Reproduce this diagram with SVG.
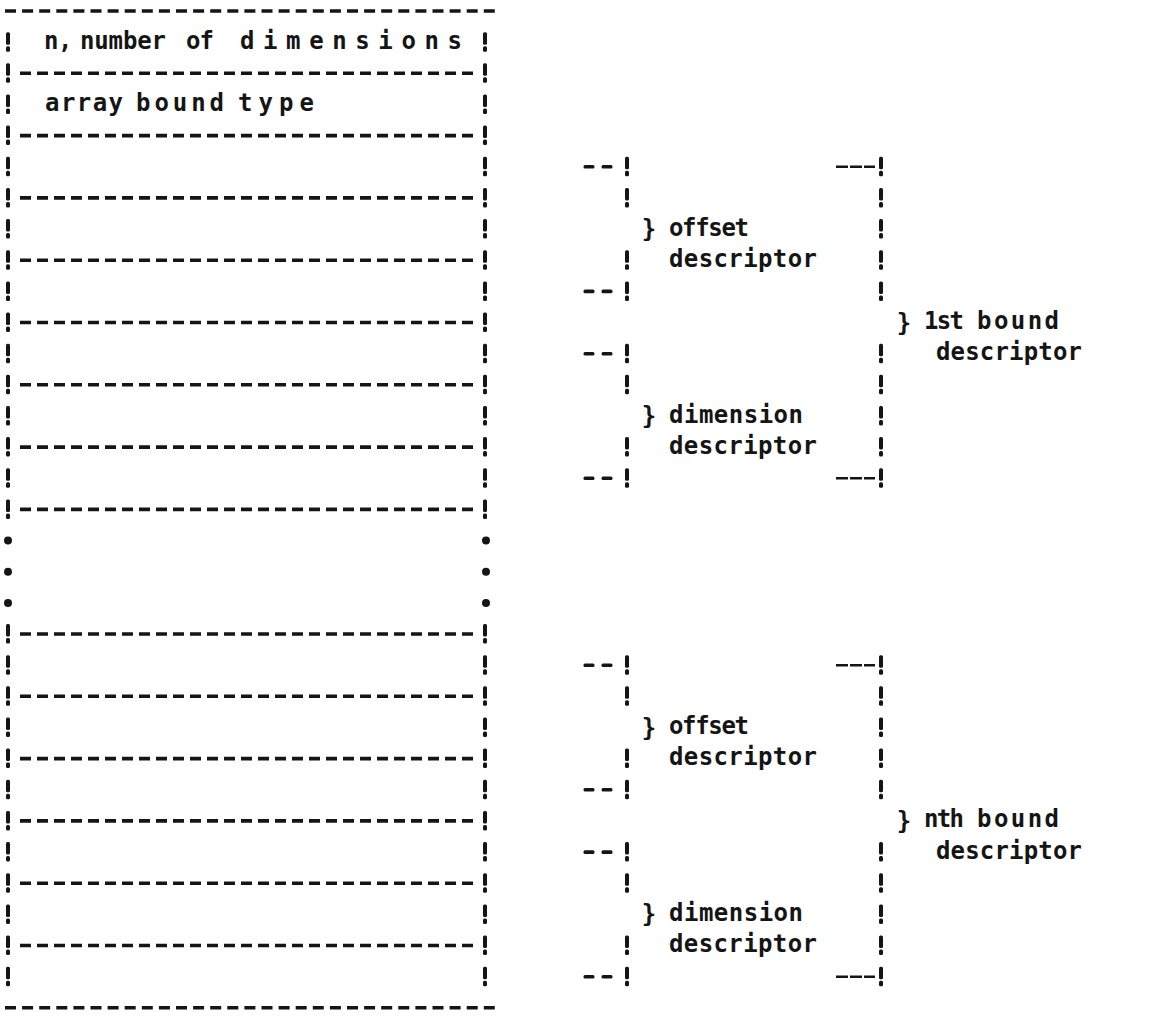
<svg xmlns="http://www.w3.org/2000/svg" xmlns:xlink="http://www.w3.org/1999/xlink" width="1162" height="1032" viewBox="0 0 1162 1032">
<style>
.t{font-family:"DejaVu Sans Mono","Liberation Mono",monospace;font-size:24px;font-weight:bold;fill:#151515}
.br{font-family:"DejaVu Sans Mono","Liberation Mono",monospace;font-size:24px;font-weight:bold;fill:#151515;text-anchor:middle}
.dl{stroke:#151515;stroke-width:3.6;stroke-dasharray:11 6;fill:none}
.dt{stroke:#151515;stroke-width:3.6;stroke-dasharray:11 6.1;fill:none}
.thin{stroke:#151515;stroke-width:2.6;stroke-dasharray:12 2;fill:none}
</style>
<defs>
<g id="bang" fill="#151515"><rect x="-2" y="-10" width="4" height="12.5" rx="1.5"/><rect x="-2" y="4" width="4" height="5.5" rx="1.5"/></g>
<rect id="dash" x="-5.5" y="-1.8" width="11" height="3.6" rx="1.5" fill="#151515"/>
<circle id="dot" r="4" fill="#151515"/>
</defs>
<rect width="1162" height="1032" fill="#ffffff"/>

<g id="array-descriptor-frame">
<line class="dt" x1="5" y1="11" x2="497" y2="11"/>
<line class="dt" x1="5" y1="1007.8" x2="497" y2="1007.8"/>
<line class="dl" x1="20" y1="73.3" x2="476" y2="73.3"/>
<line class="dl" x1="20" y1="135.6" x2="476" y2="135.6"/>
<line class="dl" x1="20" y1="197.9" x2="476" y2="197.9"/>
<line class="dl" x1="20" y1="260.2" x2="476" y2="260.2"/>
<line class="dl" x1="20" y1="322.5" x2="476" y2="322.5"/>
<line class="dl" x1="20" y1="384.8" x2="476" y2="384.8"/>
<line class="dl" x1="20" y1="447.1" x2="476" y2="447.1"/>
<line class="dl" x1="20" y1="509.4" x2="476" y2="509.4"/>
<line class="dl" x1="20" y1="634" x2="476" y2="634"/>
<line class="dl" x1="20" y1="696.3" x2="476" y2="696.3"/>
<line class="dl" x1="20" y1="758.6" x2="476" y2="758.6"/>
<line class="dl" x1="20" y1="820.9" x2="476" y2="820.9"/>
<line class="dl" x1="20" y1="883.2" x2="476" y2="883.2"/>
<line class="dl" x1="20" y1="945.5" x2="476" y2="945.5"/>
<g id="left-border">
<use href="#bang" x="8" y="42.2"/><use href="#bang" x="8" y="73.3"/><use href="#bang" x="8" y="104.5"/><use href="#bang" x="8" y="135.6"/>
<use href="#bang" x="8" y="166.8"/><use href="#bang" x="8" y="197.9"/><use href="#bang" x="8" y="229.1"/><use href="#bang" x="8" y="260.2"/>
<use href="#bang" x="8" y="291.4"/><use href="#bang" x="8" y="322.5"/><use href="#bang" x="8" y="353.7"/><use href="#bang" x="8" y="384.8"/>
<use href="#bang" x="8" y="416"/><use href="#bang" x="8" y="447.1"/><use href="#bang" x="8" y="478.3"/><use href="#bang" x="8" y="509.4"/>
<use href="#dot" x="8" y="540.6"/><use href="#dot" x="8" y="571.7"/><use href="#dot" x="8" y="602.9"/>
<use href="#bang" x="8" y="634"/><use href="#bang" x="8" y="665.2"/><use href="#bang" x="8" y="696.3"/><use href="#bang" x="8" y="727.5"/>
<use href="#bang" x="8" y="758.6"/><use href="#bang" x="8" y="789.8"/><use href="#bang" x="8" y="820.9"/><use href="#bang" x="8" y="852.1"/>
<use href="#bang" x="8" y="883.2"/><use href="#bang" x="8" y="914.4"/><use href="#bang" x="8" y="945.5"/><use href="#bang" x="8" y="976.7"/>
</g>
<g id="right-border">
<use href="#bang" x="485" y="42.2"/><use href="#bang" x="485" y="73.3"/><use href="#bang" x="485" y="104.5"/><use href="#bang" x="485" y="135.6"/>
<use href="#bang" x="485" y="166.8"/><use href="#bang" x="485" y="197.9"/><use href="#bang" x="485" y="229.1"/><use href="#bang" x="485" y="260.2"/>
<use href="#bang" x="485" y="291.4"/><use href="#bang" x="485" y="322.5"/><use href="#bang" x="485" y="353.7"/><use href="#bang" x="485" y="384.8"/>
<use href="#bang" x="485" y="416"/><use href="#bang" x="485" y="447.1"/><use href="#bang" x="485" y="478.3"/><use href="#bang" x="485" y="509.4"/>
<use href="#dot" x="486" y="540.6"/><use href="#dot" x="486" y="571.7"/><use href="#dot" x="486" y="602.9"/>
<use href="#bang" x="485" y="634"/><use href="#bang" x="485" y="665.2"/><use href="#bang" x="485" y="696.3"/><use href="#bang" x="485" y="727.5"/>
<use href="#bang" x="485" y="758.6"/><use href="#bang" x="485" y="789.8"/><use href="#bang" x="485" y="820.9"/><use href="#bang" x="485" y="852.1"/>
<use href="#bang" x="485" y="883.2"/><use href="#bang" x="485" y="914.4"/><use href="#bang" x="485" y="945.5"/><use href="#bang" x="485" y="976.7"/>
</g>
</g>

<g id="cell-number-of-dimensions">
<text class="t" x="44" y="49">n<tspan x="58">,</tspan></text>
<text class="t" x="80" y="49" textLength="86" lengthAdjust="spacing">number</text>
<text class="t" x="186" y="49" textLength="28" lengthAdjust="spacing">of</text>
<text class="t" x="240" y="49" textLength="222" lengthAdjust="spacing">dimensions</text>
</g>
<g id="cell-array-bound-type">
<text class="t" x="45" y="111" textLength="78" lengthAdjust="spacing">array</text>
<text class="t" x="136" y="111" textLength="88" lengthAdjust="spacing">bound</text>
<text class="t" x="238" y="111" textLength="76" lengthAdjust="spacing">type</text>
</g>

<g id="connectors">
<g id="offset-bracket-1"><use href="#dash" x="589" y="166.8"/><use href="#dash" x="607" y="166.8"/><use href="#bang" x="627" y="166.8"/><use href="#bang" x="627" y="197.9"/><use href="#bang" x="627" y="260.2"/><use href="#dash" x="589" y="291.4"/><use href="#dash" x="607" y="291.4"/><use href="#bang" x="627" y="291.4"/></g>
<g id="dimension-bracket-1"><use href="#dash" x="589" y="353.7"/><use href="#dash" x="607" y="353.7"/><use href="#bang" x="627" y="353.7"/><use href="#bang" x="627" y="384.8"/><use href="#bang" x="627" y="447.1"/><use href="#dash" x="589" y="478.3"/><use href="#dash" x="607" y="478.3"/><use href="#bang" x="627" y="478.3"/></g>
<g id="offset-bracket-n"><use href="#dash" x="589" y="665.2"/><use href="#dash" x="607" y="665.2"/><use href="#bang" x="627" y="665.2"/><use href="#bang" x="627" y="696.3"/><use href="#bang" x="627" y="758.6"/><use href="#dash" x="589" y="789.8"/><use href="#dash" x="607" y="789.8"/><use href="#bang" x="627" y="789.8"/></g>
<g id="dimension-bracket-n"><use href="#dash" x="589" y="852.1"/><use href="#dash" x="607" y="852.1"/><use href="#bang" x="627" y="852.1"/><use href="#bang" x="627" y="883.2"/><use href="#bang" x="627" y="945.5"/><use href="#dash" x="589" y="976.7"/><use href="#dash" x="607" y="976.7"/><use href="#bang" x="627" y="976.7"/></g>
<g id="bound-bracket-1">
<line class="thin" x1="836" y1="166.8" x2="875" y2="166.8"/><line class="thin" x1="836" y1="478.3" x2="875" y2="478.3"/>
<use href="#bang" x="881" y="166.8"/><use href="#bang" x="881" y="197.9"/><use href="#bang" x="881" y="229.1"/><use href="#bang" x="881" y="260.2"/><use href="#bang" x="881" y="291.4"/>
<use href="#bang" x="881" y="353.7"/><use href="#bang" x="881" y="384.8"/><use href="#bang" x="881" y="416"/><use href="#bang" x="881" y="447.1"/><use href="#bang" x="881" y="478.3"/>
</g>
<g id="bound-bracket-n">
<line class="thin" x1="836" y1="665.2" x2="875" y2="665.2"/><line class="thin" x1="836" y1="976.7" x2="875" y2="976.7"/>
<use href="#bang" x="881" y="665.2"/><use href="#bang" x="881" y="696.3"/><use href="#bang" x="881" y="727.5"/><use href="#bang" x="881" y="758.6"/><use href="#bang" x="881" y="789.8"/>
<use href="#bang" x="881" y="852.1"/><use href="#bang" x="881" y="883.2"/><use href="#bang" x="881" y="914.4"/><use href="#bang" x="881" y="945.5"/><use href="#bang" x="881" y="976.7"/>
</g>
</g>

<g id="offset-descriptor-1">
<text class="br" x="649" y="237">}</text>
<text class="t" x="669" y="235.6" textLength="80" lengthAdjust="spacing">offset</text>
<text class="t" x="669" y="266.7" textLength="148" lengthAdjust="spacing">descriptor</text>
</g>
<g id="dimension-descriptor-1">
<text class="br" x="649" y="424">}</text>
<text class="t" x="669" y="422.5" textLength="134" lengthAdjust="spacing">dimension</text>
<text class="t" x="669" y="453.6" textLength="148" lengthAdjust="spacing">descriptor</text>
</g>
<g id="bound-descriptor-1">
<text class="br" x="904" y="330.5">}</text>
<text class="t" x="924" y="329" textLength="40" lengthAdjust="spacing">1st</text>
<text class="t" x="977" y="329" textLength="82" lengthAdjust="spacing">bound</text>
<text class="t" x="936" y="360.2" textLength="146" lengthAdjust="spacing">descriptor</text>
</g>
<g id="offset-descriptor-n">
<text class="br" x="649" y="735.5">}</text>
<text class="t" x="669" y="734" textLength="80" lengthAdjust="spacing">offset</text>
<text class="t" x="669" y="765.1" textLength="148" lengthAdjust="spacing">descriptor</text>
</g>
<g id="dimension-descriptor-n">
<text class="br" x="649" y="922.4">}</text>
<text class="t" x="669" y="920.9" textLength="134" lengthAdjust="spacing">dimension</text>
<text class="t" x="669" y="952" textLength="148" lengthAdjust="spacing">descriptor</text>
</g>
<g id="bound-descriptor-n">
<text class="br" x="904" y="829">}</text>
<text class="t" x="924" y="827.4" textLength="40" lengthAdjust="spacing">nth</text>
<text class="t" x="977" y="827.4" textLength="82" lengthAdjust="spacing">bound</text>
<text class="t" x="936" y="858.6" textLength="146" lengthAdjust="spacing">descriptor</text>
</g>
</svg>
